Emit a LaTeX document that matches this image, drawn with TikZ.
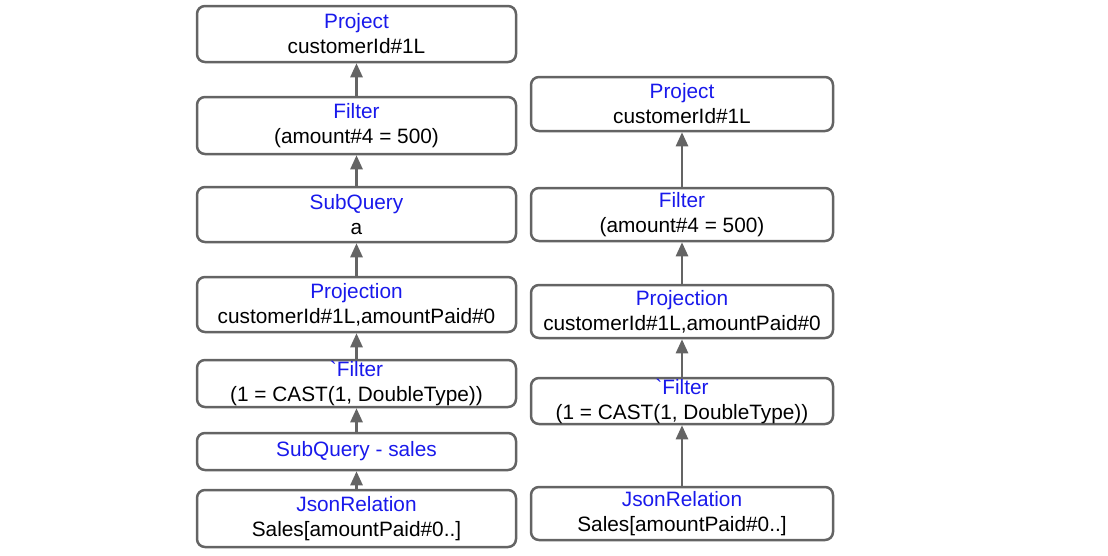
\documentclass[tikz,border=0pt]{standalone}
\usepackage{fontspec}
\setmainfont{Liberation Sans}
\usetikzlibrary{arrows.meta}
\definecolor{ttl}{RGB}{25,25,235}
\definecolor{edge}{RGB}{100,100,100}
\tikzset{
  opbox/.style={draw=edge, line width=2.5pt, rounded corners=8pt, inner sep=0pt,
    align=center, font=\fontsize{20.8}{25}\selectfont},
  lbox/.style={opbox, minimum width=319pt},
  rbox/.style={opbox, minimum width=302pt},
  flow/.style={draw=edge, line width=2.5pt, -{Triangle[length=14pt,width=12pt]}, shorten >=0pt}
}
\newcommand{\ttlc}[1]{\textcolor{ttl}{#1}}
\begin{document}
\begin{tikzpicture}[x=1pt,y=-1pt]
\useasboundingbox (0,0) rectangle (1108,555);
% left column
\node[lbox, minimum height=56pt] (p1) at (356.5,34) {\ttlc{Project}\\customerId\#1L};
\node[lbox, minimum height=57pt] (f1) at (356.5,125.5) {\ttlc{Filter}\\(amount\#4 = 500)};
\node[lbox, minimum height=55pt] (s1) at (356.5,214.5) {\ttlc{SubQuery}\\a};
\node[lbox, minimum height=55pt] (pr1) at (356.5,304.5) {\ttlc{Projection}\\customerId\#1L,amountPaid\#0};
\node[lbox, minimum height=47pt] (bf1) at (356.5,383.5) {\ttlc{\textasciigrave Filter}\\(1 = CAST(1, DoubleType))};
\node[lbox, minimum height=37pt] (ss1) at (356.5,451.5) {\ttlc{SubQuery - sales}};
\node[lbox, minimum height=57pt] (j1) at (356.5,518.5) {\ttlc{JsonRelation}\\Sales[amountPaid\#0..]};
\draw[flow] (f1) -- (p1);
\draw[flow] (s1) -- (f1);
\draw[flow] (pr1) -- (s1);
\draw[flow] (bf1) -- (pr1);
\draw[flow] (ss1) -- (bf1);
\draw[flow] (j1) -- (ss1);
% right column
\node[rbox, minimum height=54pt] (p2) at (682,104) {\ttlc{Project}\\customerId\#1L};
\node[rbox, minimum height=53pt] (f2) at (682,214.5) {\ttlc{Filter}\\(amount\#4 = 500)};
\node[rbox, minimum height=53pt] (pr2) at (682,311.5) {\ttlc{Projection}\\customerId\#1L,amountPaid\#0};
\node[rbox, minimum height=46pt] (bf2) at (682,401) {\ttlc{\textasciigrave Filter}\\(1 = CAST(1, DoubleType))};
\node[rbox, minimum height=53pt] (j2) at (682,513.5) {\ttlc{JsonRelation}\\Sales[amountPaid\#0..]};
\draw[flow] (f2) -- (p2);
\draw[flow] (pr2) -- (f2);
\draw[flow] (bf2) -- (pr2);
\draw[flow] (j2) -- (bf2);
\end{tikzpicture}
\end{document}
